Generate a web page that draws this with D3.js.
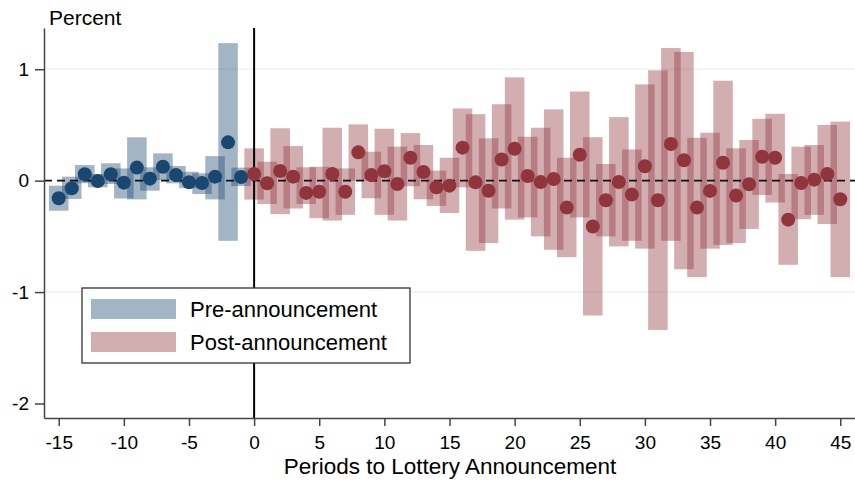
<!DOCTYPE html>
<html>
<head>
<meta charset="utf-8">
<script src="https://cdn.jsdelivr.net/npm/d3@7"></script>
<style>
  body { margin: 0; background: #fff; }
  svg { display: block; font-family: "Liberation Sans", Arial, sans-serif; }
</style>
</head>
<body>
<svg id="chart" width="855" height="486"></svg>
<script>
// periods relative to the lottery announcement
const prePeriods = [-15, -14, -13, -12, -11, -10, -9, -8, -7, -6, -5, -4, -3, -2, -1];
const preEst = [-0.158, -0.068, 0.057, -0.003, 0.057, -0.018, 0.117, 0.018, 0.125, 0.051, -0.014, -0.021, 0.036, 0.344, 0.033];
const preLo  = [-0.27, -0.164, -0.023, -0.06, -0.03, -0.16, -0.168, -0.09, 0.006, -0.024, -0.068, -0.12, -0.168, -0.54, -0.048];
const preHi  = [-0.045, 0.036, 0.14, 0.06, 0.156, 0.11, 0.389, 0.12, 0.245, 0.132, 0.08, 0.066, 0.22, 1.234, 0.117];

const postPeriods = [0, 1, 2, 3, 4, 5, 6, 7, 8, 9, 10, 11, 12, 13, 14, 15, 16, 17, 18, 19, 20, 21, 22,
  23, 24, 25, 26, 27, 28, 29, 30, 31, 32, 33, 34, 35, 36, 37, 38, 39, 40, 41, 42, 43, 44, 45];
const postEst = [0.06, -0.023, 0.087, 0.036, -0.11, -0.10, 0.06, -0.10, 0.254, 0.05, 0.084, -0.03, 0.206, 0.078,
  -0.06, -0.045, 0.296, -0.015, -0.09, 0.19, 0.287, 0.042, -0.013, 0.015, -0.242, 0.233, -0.412, -0.176,
  -0.012, -0.125, 0.129, -0.176, 0.329, 0.183, -0.242, -0.092, 0.161, -0.134, -0.032, 0.215, 0.206, -0.35,
  -0.021, 0.009, 0.06, -0.167];
const postLo = [-0.17, -0.21, -0.30, -0.25, -0.21, -0.337, -0.358, -0.307, 0.0, -0.158, -0.307, -0.358, -0.05,
  -0.167, -0.227, -0.29, -0.06, -0.63, -0.56, -0.25, -0.35, -0.33, -0.50, -0.62, -0.687, -0.33, -1.21, -0.50,
  -0.59, -0.54, -0.61, -1.34, -0.54, -0.795, -0.866, -0.61, -0.577, -0.56, -0.433, -0.128, -0.196, -0.755,
  -0.346, -0.307, -0.39, -0.866];
const postHi = [0.29, 0.17, 0.47, 0.31, 0.12, 0.125, 0.475, 0.11, 0.505, 0.26, 0.466, 0.305, 0.427, 0.32, 0.09,
  0.206, 0.648, 0.597, 0.38, 0.686, 0.927, 0.394, 0.475, 0.64, 0.206, 0.80, 0.39, 0.15, 0.57, 0.28, 0.864,
  0.99, 1.19, 1.155, 0.385, 0.43, 0.897, 0.29, 0.365, 0.555, 0.60, 0.06, 0.305, 0.32, 0.50, 0.53];

const xTicks = [-15, -10, -5, 0, 5, 10, 15, 20, 25, 30, 35, 40, 45];
const yTicks = [-2, -1, 0, 1];
const gridVals = [-1, 1];

const preColor = "#1a476f", postColor = "#90353b";

const svg = d3.select("#chart");
const plotL = 44, plotR = 855, plotT = 28, plotB = 418;

const x = d3.scaleLinear().domain([-16.13, 46.13]).range([plotL, plotR]);
const y = d3.scaleLinear().domain([-2.13, 1.37]).range([plotB, plotT]);
const barW = x(1.5) - x(0);

const pre = prePeriods.map((p, i) => ({ p, est: preEst[i], lo: preLo[i], hi: preHi[i] }));
const post = postPeriods.map((p, i) => ({ p, est: postEst[i], lo: postLo[i], hi: postHi[i] }));

// grid
svg.append("g").selectAll("line").data(gridVals).join("line")
  .attr("x1", plotL).attr("x2", plotR)
  .attr("y1", d => y(d)).attr("y2", d => y(d))
  .attr("stroke", "#eaf2f3").attr("stroke-width", 1.5);

// confidence bars
function bars(data, color) {
  svg.append("g").selectAll("rect").data(data).join("rect")
    .attr("x", d => x(d.p) - barW / 2)
    .attr("width", barW)
    .attr("y", d => y(d.hi))
    .attr("height", d => y(d.lo) - y(d.hi))
    .attr("fill", color).attr("fill-opacity", 0.4);
}
bars(pre, preColor);
bars(post, postColor);

// zero line and announcement line
svg.append("line")
  .attr("x1", plotL).attr("x2", plotR).attr("y1", y(0)).attr("y2", y(0))
  .attr("stroke", "#111").attr("stroke-width", 1.6).attr("stroke-dasharray", "8,5");
svg.append("line")
  .attr("x1", x(0)).attr("x2", x(0)).attr("y1", plotT).attr("y2", plotB)
  .attr("stroke", "#000").attr("stroke-width", 2);

// point estimates
function dots(data, color) {
  svg.append("g").selectAll("circle").data(data).join("circle")
    .attr("cx", d => x(d.p)).attr("cy", d => y(d.est)).attr("r", 7)
    .attr("fill", color);
}
dots(pre, preColor);
dots(post, postColor);

// axes
const yAxis = svg.append("g").attr("transform", `translate(${plotL},0)`)
  .call(d3.axisLeft(y).tickValues(yTicks).tickFormat(d => String(d)).tickSize(9).tickSizeOuter(0).tickPadding(6));
const xAxis = svg.append("g").attr("transform", `translate(0,${plotB})`)
  .call(d3.axisBottom(x).tickValues(xTicks).tickFormat(d => String(d)).tickSize(8).tickSizeOuter(0).tickPadding(10));
[xAxis, yAxis].forEach(g => {
  g.selectAll("path, line").attr("stroke", "#444").attr("stroke-width", 1.5);
  g.selectAll("text").attr("fill", "#000").style("font-size", "19px")
    .style("font-family", '"Liberation Sans", Arial, sans-serif');
});

svg.append("text").attr("x", 49).attr("y", 25).text("Percent")
  .style("font-size", "21px");
svg.append("text").attr("x", 450).attr("y", 474).attr("text-anchor", "middle")
  .text("Periods to Lottery Announcement").style("font-size", "22.5px");

// legend
const legend = svg.append("g");
legend.append("rect").attr("x", 82).attr("y", 288).attr("width", 328).attr("height", 75)
  .attr("fill", "#fff").attr("stroke", "#333").attr("stroke-width", 1.3);
const legendItems = [
  { label: "Pre-announcement", color: preColor },
  { label: "Post-announcement", color: postColor }
];
legendItems.forEach((d, i) => {
  legend.append("rect").attr("x", 91).attr("y", 299 + i * 33).attr("width", 85).attr("height", 20)
    .attr("fill", d.color).attr("fill-opacity", 0.4);
  legend.append("text").attr("x", 190).attr("y", 317 + i * 33).text(d.label)
    .style("font-size", "22px");
});
</script>
</body>
</html>
